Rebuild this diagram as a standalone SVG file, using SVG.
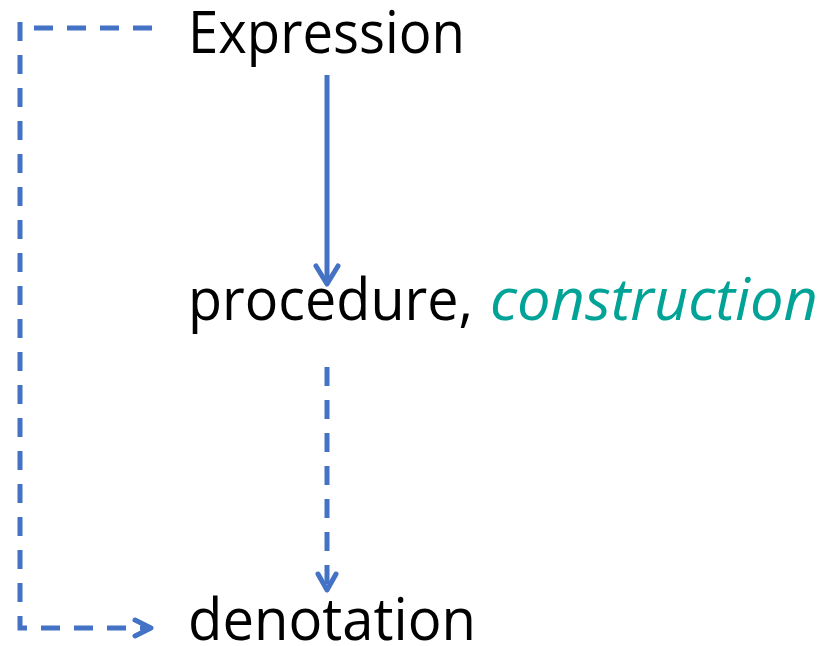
<svg xmlns="http://www.w3.org/2000/svg" width="825" height="646" viewBox="0 0 825 646">
<style>
.t{font-family:"Open Sans","Noto Sans",sans-serif;font-size:58px;fill:#000}
.c{fill:#00A396;font-style:italic}
.ln{stroke:#4472C4;stroke-width:5;fill:none}
.d{stroke-dasharray:19 14}
.hd{stroke:#4472C4;stroke-width:5;fill:none;stroke-linecap:round;stroke-linejoin:round}
</style>
<rect width="825" height="646" fill="#fff"/>
<g id="expression"><text class="t" x="188" y="53" textLength="277" lengthAdjust="spacingAndGlyphs">Expression</text></g>
<g id="procedure"><text class="t" x="188" y="320" textLength="285" lengthAdjust="spacingAndGlyphs">procedure,</text><text class="t c" x="490" y="320" textLength="328" lengthAdjust="spacingAndGlyphs">construction</text></g>
<g id="denotation"><text class="t" x="188" y="640" textLength="288" lengthAdjust="spacingAndGlyphs">denotation</text></g>
<g id="connectors">
<line class="ln" x1="327" y1="75" x2="327" y2="282"/>
<polyline class="hd" points="316,266 327,284 338,266"/>
<line class="ln d" x1="327" y1="367" x2="327" y2="588"/>
<polyline class="hd" points="318,574 327,590 336,574"/>
<line class="ln d" x1="152" y1="28" x2="34" y2="28"/>
<path class="ln d" d="M20,22 V628 H148"/>
<polyline class="hd" points="135,620 151,628 135,636"/>
</g>
</svg>
